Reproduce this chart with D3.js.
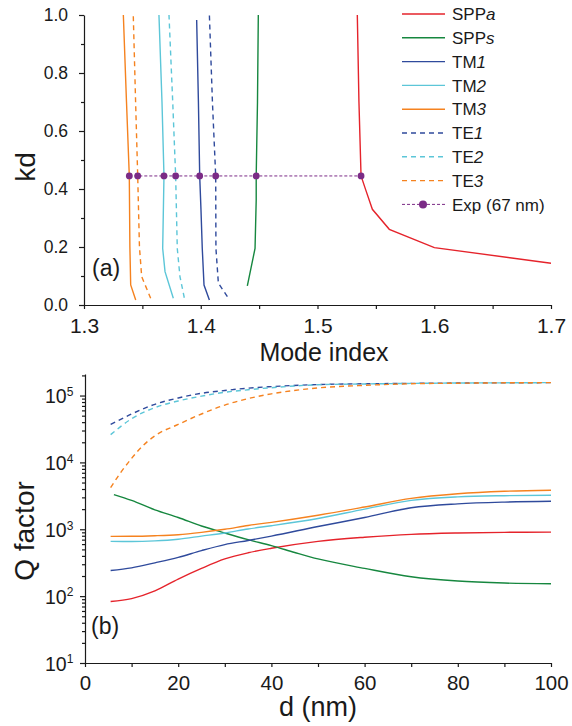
<!DOCTYPE html>
<html>
<head>
<meta charset="utf-8">
<script src="https://cdn.jsdelivr.net/npm/d3@7"></script>
<style>
  body { margin: 0; background: #fff; }
  svg { font-family: "Liberation Sans", Arial, Helvetica, sans-serif; }
  .axis path, .axis line { stroke: #1a1a1a; stroke-width: 1.2px; }
  .axis text { fill: #1a1a1a; }
</style>
</head>
<body>
<div id="chart"></div>
<script>
// ---- panel (a): dispersion, kd vs mode index ----
const sppaKd = [0.144, 0.198, 0.261, 0.33, 0.397, 0.445, 0.7, 1.0];
const sppaN  = [1.700, 1.6001, 1.5615, 1.5470, 1.5413, 1.5373, 1.5355, 1.5341];
const sppsKd = [0.066, 0.195, 0.362, 0.445, 0.7, 1.0];
const sppsN  = [1.4399, 1.4465, 1.4475, 1.4475, 1.4486, 1.4493];
const tm1Kd = [0.017, 0.069, 0.195, 0.328, 0.445, 0.7, 0.983];
const tm1N  = [1.4074, 1.4028, 1.4013, 1.4002, 1.3991, 1.3980, 1.3965];
const tm2Kd = [0.023, 0.115, 0.195, 0.445, 0.7, 1.0];
const tm2N  = [1.3765, 1.3694, 1.3674, 1.3685, 1.3668, 1.3642];
const tm3Kd = [0.017, 0.069, 0.2, 0.445, 0.7, 1.0];
const tm3N  = [1.3443, 1.3400, 1.3393, 1.3388, 1.3364, 1.3337];
const te1Kd = [0.029, 0.075, 0.195, 0.445, 0.7, 1.0];
const te1N  = [1.4228, 1.4151, 1.4130, 1.4128, 1.4100, 1.4074];
const te2Kd = [0.025, 0.098, 0.195, 0.445, 0.7, 1.0];
const te2N  = [1.3859, 1.3822, 1.3799, 1.3785, 1.3760, 1.3728];
const te3Kd = [0.023, 0.098, 0.2, 0.445, 0.7, 1.0];
const te3N  = [1.3571, 1.3494, 1.3475, 1.3460, 1.3442, 1.3422];
const expKd = 0.445;
const expN  = [1.3388, 1.3460, 1.3685, 1.3785, 1.3991, 1.4128, 1.4475, 1.5373];

// ---- panel (b): Q factor vs d (nm) ----
const dGrid  = [5.5, 10, 15, 20, 25, 30, 35, 40, 50, 60, 70, 80, 90, 100];
const qSppa  = [83, 92, 120, 180, 260, 360, 445, 520, 660, 760, 840, 880, 900, 905];
const sppsD  = [6.2, 10, 15, 20, 25, 30, 35, 40, 45, 50, 60, 70, 80, 90, 100];
const qSpps  = [3300, 2700, 1950, 1500, 1120, 880, 700, 570, 450, 360, 260, 195, 168, 157, 153];
const qTm1   = [242, 265, 315, 380, 480, 590, 680, 790, 1100, 1500, 2100, 2400, 2550, 2620];
const qTm2   = [660, 655, 670, 710, 790, 880, 1010, 1130, 1450, 2000, 2700, 3050, 3180, 3230];
const qTm3   = [783, 785, 800, 830, 900, 1000, 1140, 1270, 1620, 2150, 2900, 3400, 3700, 3840];
const qTe1   = [37000, 53000, 74000, 92000, 108000, 119000, 129000, 136000, 146000, 150000, 152000, 154000, 155000, 156000];
const qTe2   = [26000, 45000, 66000, 83000, 98000, 112000, 122000, 131000, 145000, 149000, 152000, 154000, 155000, 156000];
const te3D   = [5.5, 7.5, 10, 12.5, 15, 20, 25, 30, 35, 40, 50, 60, 70, 80, 90, 100];
const qTe3   = [4200, 6800, 11500, 18000, 25000, 37000, 53000, 72000, 90000, 106000, 130000, 142000, 150000, 153000, 155000, 156000];

const legendNames = ["SPP|a", "SPP|s", "TM|1", "TM|2", "TM|3", "TE|1", "TE|2", "TE|3", "Exp (67 nm)"];

const col = {
  red: "#e5232b", green: "#16873f", blue: "#2f4a9c",
  cyan: "#5cc6d8", orange: "#f5821f", purple: "#7b2b86"
};

const zip = (xs, ys) => xs.map((x, i) => [x, ys[i]]);

const W = 572, H = 726;
let svg = d3.select("#chart").append("svg")
  .attr("width", W)
  .attr("height", H);

//=========== Panel (a) ===========
let xA = d3.scaleLinear().domain([1.3, 1.7]).range([84, 551]);
let yA = d3.scaleLinear().domain([0, 1]).range([305, 15]);

let seriesA = [
  {pts: zip(sppaN, sppaKd), color: col.red, dash: null},
  {pts: zip(sppsN, sppsKd), color: col.green, dash: null},
  {pts: zip(tm1N, tm1Kd), color: col.blue, dash: null},
  {pts: zip(tm2N, tm2Kd), color: col.cyan, dash: null},
  {pts: zip(tm3N, tm3Kd), color: col.orange, dash: null},
  {pts: zip(te1N, te1Kd), color: col.blue, dash: "5,4"},
  {pts: zip(te2N, te2Kd), color: col.cyan, dash: "5,4"},
  {pts: zip(te3N, te3Kd), color: col.orange, dash: "5,4"}
];

let lineA = d3.line()
  .x(d => xA(d[0]))
  .y(d => yA(d[1]));

let gA = svg.append("g");

gA.selectAll(".curveA")
  .data(seriesA)
  .enter()
  .append("path")
  .attr("class", "curveA")
  .attr("d", d => lineA(d.pts))
  .style("fill", "none")
  .style("stroke", d => d.color)
  .style("stroke-width", "1.4px")
  .style("stroke-dasharray", d => d.dash);

//experimental points
gA.append("line")
  .attr("x1", xA(d3.min(expN)))
  .attr("x2", xA(d3.max(expN)))
  .attr("y1", yA(expKd))
  .attr("y2", yA(expKd))
  .style("stroke", col.purple)
  .style("stroke-width", "1px")
  .style("stroke-dasharray", "3,2");

gA.selectAll(".expDot")
  .data(expN)
  .enter()
  .append("circle")
  .attr("class", "expDot")
  .attr("cx", d => xA(d))
  .attr("cy", yA(expKd))
  .attr("r", 3.4)
  .style("fill", col.purple);

//axes for (a)
gA.append("g")
  .attr("class", "axis")
  .attr("transform", "translate(0,305)")
  .call(d3.axisBottom(xA)
    .tickValues(d3.range(0, 9).map(i => 1.3 + i * 0.05))
    .tickSize(4).tickSizeOuter(0)
    .tickFormat((d, i) => i % 2 === 0 ? d3.format(".1f")(d) : ""))
  .call(g => g.selectAll("text").attr("dy", 0).attr("y", 28).style("font-size", "21px"));

gA.append("g")
  .attr("class", "axis")
  .attr("transform", "translate(84,0)")
  .call(d3.axisLeft(yA)
    .tickValues(d3.range(0, 11).map(i => i / 10))
    .tickSize(5).tickSizeOuter(0)
    .tickFormat((d, i) => i % 2 === 0 ? d3.format(".1f")(d) : ""))
  .call(g => g.selectAll(".tick").filter((d, i) => i % 2 === 1).select("line").attr("x2", -3))
  .call(g => g.selectAll("text").attr("x", -16).style("font-size", "17.5px"));

gA.append("text")
  .attr("x", 324)
  .attr("y", 361)
  .attr("text-anchor", "middle")
  .style("font-size", "25px")
  .style("fill", "#1a1a1a")
  .text("Mode index");

gA.append("text")
  .attr("transform", "translate(35,167) rotate(-90)")
  .attr("text-anchor", "middle")
  .style("font-size", "28px")
  .style("fill", "#1a1a1a")
  .text("kd");

gA.append("text")
  .attr("x", 92)
  .attr("y", 276)
  .style("font-size", "23px")
  .style("fill", "#1a1a1a")
  .text("(a)");

//legend
let legendStyle = [
  {color: col.red, dash: null}, {color: col.green, dash: null},
  {color: col.blue, dash: null}, {color: col.cyan, dash: null},
  {color: col.orange, dash: null}, {color: col.blue, dash: "5,4"},
  {color: col.cyan, dash: "5,4"}, {color: col.orange, dash: "5,4"},
  {color: col.purple, dash: "3,2", dot: true}
];

let legend = svg.append("g").attr("class", "legend");
let row = legend.selectAll(".row")
  .data(legendNames)
  .enter()
  .append("g")
  .attr("class", "row")
  .attr("transform", (d, i) => "translate(0," + (14 + i * 23.8) + ")");

row.append("line")
  .attr("x1", 402).attr("x2", 445)
  .style("stroke", (d, i) => legendStyle[i].color)
  .style("stroke-width", (d, i) => legendStyle[i].dot ? "1px" : "1.4px")
  .style("stroke-dasharray", (d, i) => legendStyle[i].dash);

row.filter((d, i) => legendStyle[i].dot)
  .append("circle")
  .attr("cx", 423).attr("r", 4)
  .style("fill", col.purple);

let lt = row.append("text")
  .attr("x", 452)
  .attr("dy", "0.36em")
  .style("font-size", "17px")
  .style("fill", "#1a1a1a");
lt.append("tspan").text(d => d.split("|")[0]);
lt.append("tspan").style("font-style", "italic").text(d => d.split("|")[1] || "");

//=========== Panel (b) ===========
let xB = d3.scaleLinear().domain([0, 100]).range([85, 551]);
let yB = d3.scaleLog().domain([10, 2.1e5]).range([663, 374]);

let seriesB = [
  {pts: zip(dGrid, qTe1), color: col.blue, dash: "5,4"},
  {pts: zip(dGrid, qTe2), color: col.cyan, dash: "5,4"},
  {pts: zip(te3D, qTe3), color: col.orange, dash: "5,4"},
  {pts: zip(dGrid, qSppa), color: col.red, dash: null},
  {pts: zip(sppsD, qSpps), color: col.green, dash: null},
  {pts: zip(dGrid, qTm1), color: col.blue, dash: null},
  {pts: zip(dGrid, qTm2), color: col.cyan, dash: null},
  {pts: zip(dGrid, qTm3), color: col.orange, dash: null}
];

let lineB = d3.line()
  .curve(d3.curveMonotoneX)
  .x(d => xB(d[0]))
  .y(d => yB(d[1]));

let gB = svg.append("g");

gB.selectAll(".curveB")
  .data(seriesB)
  .enter()
  .append("path")
  .attr("class", "curveB")
  .attr("d", d => lineB(d.pts))
  .style("fill", "none")
  .style("stroke", d => d.color)
  .style("stroke-width", "1.4px")
  .style("stroke-dasharray", d => d.dash);

gB.append("g")
  .attr("class", "axis")
  .attr("transform", "translate(0,663)")
  .call(d3.axisBottom(xB)
    .tickValues(d3.range(0, 101, 10))
    .tickSize(4).tickSizeOuter(0)
    .tickFormat(d => d % 20 === 0 ? d : ""))
  .call(g => g.selectAll("text").attr("dy", 0).attr("y", 27).style("font-size", "20.5px"));

//log ticks: majors at decades, minors 2..9
let logTicks = [];
for (let e = 1; e <= 5; e++) {
  for (let m = 1; m <= 9; m++) {
    let v = m * Math.pow(10, e);
    if (v <= 2.1e5) logTicks.push(v);
  }
}

let yAxisB = gB.append("g")
  .attr("class", "axis")
  .attr("transform", "translate(85,0)")
  .call(d3.axisLeft(yB)
    .tickValues(logTicks)
    .tickSize(5).tickSizeOuter(0)
    .tickFormat(""));

yAxisB.selectAll(".tick")
  .filter(d => Math.abs(Math.log10(d) % 1) > 1e-6)
  .select("line").attr("x2", -3);

yAxisB.selectAll(".tick")
  .filter(d => Math.abs(Math.log10(d) % 1) < 1e-6)
  .select("text")
  .attr("text-anchor", "start")
  .attr("x", -40)
  .attr("dy", "0.36em")
  .style("font-size", "19.5px")
  .each(function (d) {
    let t = d3.select(this);
    t.text("10");
    t.append("tspan")
      .attr("dy", "-0.6em")
      .style("font-size", "12px")
      .text(Math.round(Math.log10(d)));
  });

gB.append("text")
  .attr("x", 318)
  .attr("y", 716)
  .attr("text-anchor", "middle")
  .style("font-size", "27px")
  .style("fill", "#1a1a1a")
  .text("d (nm)");

gB.append("text")
  .attr("transform", "translate(34,531) rotate(-90)")
  .attr("text-anchor", "middle")
  .style("font-size", "28px")
  .style("fill", "#1a1a1a")
  .text("Q factor");

gB.append("text")
  .attr("x", 91)
  .attr("y", 634)
  .style("font-size", "23px")
  .style("fill", "#1a1a1a")
  .text("(b)");
</script>
</body>
</html>
